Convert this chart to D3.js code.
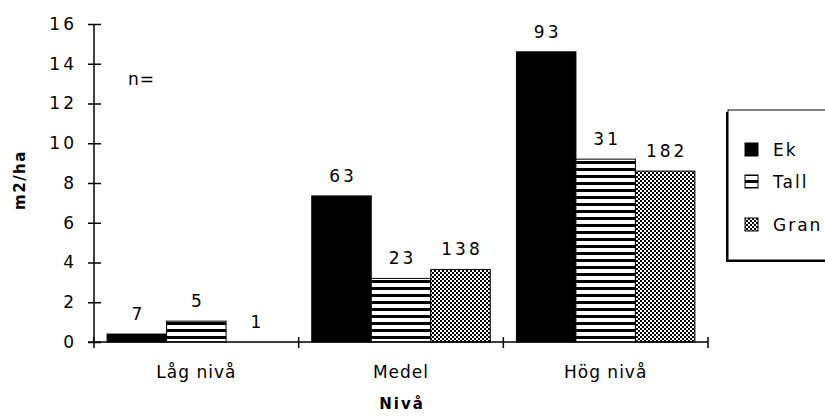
<!DOCTYPE html>
<html>
<head>
<meta charset="utf-8">
<script src="https://cdn.jsdelivr.net/npm/d3@7"></script>
<style>
  html, body { margin: 0; padding: 0; background: #fff; }
  svg { display: block; }
  text { font-family: "DejaVu Sans", Verdana, sans-serif; fill: #000; }
</style>
</head>
<body>
<svg id="chart" width="825" height="416"></svg>
<script>
// Basal area per hectare by level, three tree species
const categories = ["Låg nivå", "Medel", "Hög nivå"];
const seriesNames = ["Ek", "Tall", "Gran"];
const ekValues   = [0.4, 7.35, 14.6];
const tallValues = [1.05, 3.2, 9.2];
const granValues = [0, 3.65, 8.6];
// sample counts (n) printed above each bar
const ekCounts   = [7, 63, 93];
const tallCounts = [5, 23, 31];
const granCounts = [1, 138, 182];
const yTicks = [0, 2, 4, 6, 8, 10, 12, 14, 16];

const series = [
  { name: "Ek",   values: ekValues,   counts: ekCounts,   fill: "#000" },
  { name: "Tall", values: tallValues, counts: tallCounts, fill: "url(#stripes)" },
  { name: "Gran", values: granValues, counts: granCounts, fill: "url(#checks)" }
];

const svg = d3.select("#chart");
const FS = 17;

// fill patterns
const defs = svg.append("defs");
const stripes = defs.append("pattern").attr("id", "stripes")
  .attr("patternUnits", "userSpaceOnUse").attr("width", 8).attr("height", 7);
stripes.append("rect").attr("width", 8).attr("height", 7).attr("fill", "#fff");
stripes.append("rect").attr("width", 8).attr("height", 3).attr("fill", "#000");

const checks = defs.append("pattern").attr("id", "checks")
  .attr("patternUnits", "userSpaceOnUse").attr("width", 4).attr("height", 4);
checks.append("rect").attr("width", 4).attr("height", 4).attr("fill", "#fff");
checks.append("rect").attr("width", 2).attr("height", 2).attr("fill", "#000");
checks.append("rect").attr("x", 2).attr("y", 2).attr("width", 2).attr("height", 2).attr("fill", "#000");

const plot = { left: 94, right: 708, top: 24, bottom: 342 };

const x = d3.scaleBand().domain(categories).range([plot.left, plot.right]).padding(0);
const xs = d3.scaleBand().domain(seriesNames).range([0, x.bandwidth()])
  .paddingInner(0).paddingOuter(0.22);
const y = d3.scaleLinear().domain([0, 16]).range([plot.bottom, plot.top]);

// bars
series.forEach(s => {
  const g = svg.append("g");
  g.selectAll("rect").data(categories).join("rect")
    .attr("x", c => x(c) + xs(s.name))
    .attr("y", (c, i) => y(s.values[i]))
    .attr("width", xs.bandwidth())
    .attr("height", (c, i) => y(0) - y(s.values[i]))
    .attr("fill", s.fill)
    .attr("stroke", (c, i) => s.values[i] > 0 ? "#000" : "none")
    .attr("stroke-width", 1);
  g.selectAll("text").data(categories).join("text")
    .attr("x", c => x(c) + xs(s.name) + xs.bandwidth() / 2 + 1.5)
    .attr("y", (c, i) => y(s.values[i]) - 14)
    .attr("text-anchor", "middle")
    .attr("font-size", FS)
    .attr("letter-spacing", 3)
    .text((c, i) => s.counts[i]);
});

// y axis
const yAxis = svg.append("g").attr("transform", `translate(${plot.left},0)`)
  .call(d3.axisLeft(y).tickValues(yTicks).tickSize(6).tickPadding(11).tickFormat(d3.format("d")));
yAxis.select(".domain").attr("d", `M0,${plot.top}V${plot.bottom}`).attr("stroke", "#000").attr("stroke-width", 1.5);
yAxis.selectAll(".tick line").attr("x1", -6).attr("x2", 7).attr("stroke-width", 1.5);
yAxis.selectAll(".tick text").attr("font-size", FS).attr("letter-spacing", 3)
  .attr("font-family", "DejaVu Sans, sans-serif").attr("fill", "#000");

// x axis with boundary ticks between categories
const xAxis = svg.append("g").attr("transform", `translate(0,${plot.bottom})`);
xAxis.append("line").attr("x1", plot.left - 6).attr("x2", plot.right)
  .attr("stroke", "#000").attr("stroke-width", 1.5);
const bounds = categories.map(c => x(c)).concat([plot.right]);
xAxis.selectAll("line.tk").data(bounds).join("line").attr("class", "tk")
  .attr("x1", d => d).attr("x2", d => d).attr("y1", -5).attr("y2", 6)
  .attr("stroke", "#000").attr("stroke-width", 1.5);
xAxis.selectAll("text").data(categories).join("text")
  .attr("x", c => x(c) + x.bandwidth() / 2)
  .attr("y", 36)
  .attr("text-anchor", "middle")
  .attr("font-size", FS)
  .attr("letter-spacing", 1)
  .text(c => c);

// axis titles
svg.append("text").attr("x", 402).attr("y", 409).attr("text-anchor", "middle")
  .attr("font-size", FS - 2).attr("font-weight", "bold").attr("letter-spacing", 2)
  .text("Nivå");
svg.append("text").attr("transform", "translate(25,180) rotate(-90)")
  .attr("text-anchor", "middle")
  .attr("font-size", FS - 2).attr("font-weight", "bold").attr("letter-spacing", 1.5)
  .text("m2/ha");

svg.append("text").attr("x", 128).attr("y", 85)
  .attr("font-size", FS).attr("letter-spacing", 1).text("n=");

// legend
const lg = svg.append("g").attr("transform", "translate(728,110)");
lg.append("rect").attr("x", -2).attr("y", 2).attr("width", 120).attr("height", 150).attr("fill", "#000");
lg.append("rect").attr("x", 0).attr("y", 0).attr("width", 120).attr("height", 150)
  .attr("fill", "#fff").attr("stroke", "#000").attr("stroke-width", 1);
const itemY = [39, 71, 114];
series.forEach((s, i) => {
  lg.append("rect").attr("x", 17).attr("y", itemY[i] - 6).attr("width", 13).attr("height", 13)
    .attr("fill", s.fill).attr("stroke", "#000").attr("stroke-width", 1);
  lg.append("text").attr("x", 45).attr("y", itemY[i] + 7)
    .attr("font-size", FS).attr("letter-spacing", 2).text(s.name);
});
</script>
</body>
</html>
